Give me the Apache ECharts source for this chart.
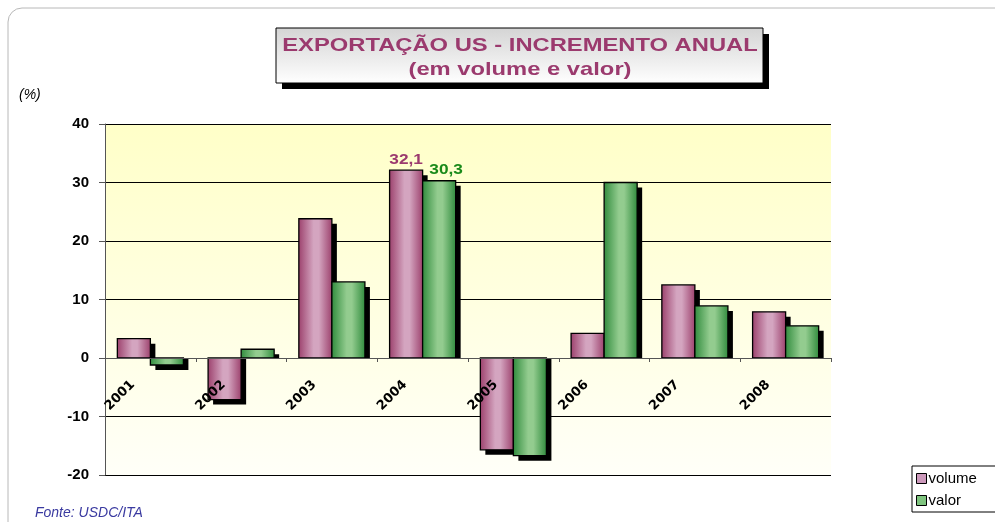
<!DOCTYPE html>
<html lang="pt">
<head>
  <meta charset="utf-8">
</head>
<body style="height: 100%; margin: 0">
  <div id="container" style="width: 995px; height: 522px"></div>
  <script type="text/javascript" src="https://fastly.jsdelivr.net/npm/echarts@6/dist/echarts.min.js"></script>
  <script type="text/javascript">
    // dados
    var anos = ['2001', '2002', '2003', '2004', '2005', '2006', '2007', '2008'];
    var volume = [3.3, -7.1, 23.8, 32.1, -15.7, 4.2, 12.5, 7.9];
    var valor = [-1.2, 1.5, 13.0, 30.3, -16.7, 30.0, 8.9, 5.5];
    var yTicks = [-20, -10, 0, 10, 20, 30, 40];
    var rotulosVisiveis = ['2004']; // só 2004 tem rótulo de valor

    var dom = document.getElementById('container');
    var myChart = echarts.init(dom, null, { renderer: 'canvas' });

    var FONTE = 'Liberation Sans, Arial';

    function gradBar(edge, mid) {
      return new echarts.graphic.LinearGradient(0, 0, 1, 0, [
        { offset: 0, color: edge },
        { offset: 0.45, color: mid },
        { offset: 0.6, color: mid },
        { offset: 1, color: edge }
      ]);
    }

    // barra com sombra "chapada" estilo Excel
    function fazBarra(desloc, fill, corRotulo, dxRotulo) {
      return function (params, api) {
        var idx = api.value(0);
        var v = api.value(1);
        var p0 = api.coord([idx, 0]);
        var p1 = api.coord([idx, v]);
        var band = api.size([1, 0])[0];
        var w = band * 0.364;
        var x = p0[0] + desloc * w;
        var top = Math.min(p0[1], p1[1]);
        var h = Math.abs(p1[1] - p0[1]);
        var sombra;
        if (v >= 0) {
          sombra = { x: x + 5, y: p1[1] + 5, width: w, height: Math.max(0, p0[1] - p1[1] - 5) };
        } else {
          sombra = { x: x + 5, y: p0[1], width: w, height: p1[1] - p0[1] + 5 };
        }
        var filhos = [
          { type: 'rect', shape: sombra, style: { fill: '#000' } },
          {
            type: 'rect',
            shape: { x: x, y: top, width: w, height: h },
            style: { fill: fill, stroke: '#000', lineWidth: 1.3 }
          }
        ];
        var nome = anos[idx];
        if (rotulosVisiveis.indexOf(nome) >= 0) {
          filhos.push({
            type: 'text',
            x: x + w / 2 + dxRotulo,
            y: p1[1] - 3,
            scaleX: 1.15,
            style: {
              text: String(v).replace('.', ','),
              fill: corRotulo,
              font: 'bold 15px ' + FONTE,
              align: 'center',
              verticalAlign: 'bottom'
            }
          });
        }
        return { type: 'group', children: filhos };
      };
    }

    var dadosVolume = volume.map(function (v, i) { return [i, v]; });
    var dadosValor = valor.map(function (v, i) { return [i, v]; });

    var option = {
      backgroundColor: '#fff',
      animation: false,
      textStyle: { fontFamily: FONTE },
      graphic: [
        {
          type: 'rect',
          shape: { x: 8, y: 8, width: 1010, height: 540, r: 14 },
          style: { fill: 'none', stroke: '#b8b8b8', lineWidth: 1 },
          z: -10
        },
        {
          type: 'rect',
          shape: { x: 282, y: 34, width: 487, height: 55 },
          style: { fill: '#000' }
        },
        {
          type: 'rect',
          shape: { x: 276, y: 28, width: 487, height: 55 },
          style: {
            fill: new echarts.graphic.LinearGradient(0, 0, 0, 1, [
              { offset: 0, color: '#d4d4d4' },
              { offset: 1, color: '#ffffff' }
            ]),
            stroke: '#000',
            lineWidth: 1
          }
        },
        {
          type: 'text',
          x: 520,
          y: 46,
          scaleX: 1.25,
          style: {
            text: 'EXPORTAÇÃO US - INCREMENTO ANUAL',
            fill: '#9b3a6e',
            font: 'bold 19px ' + FONTE,
            align: 'center',
            verticalAlign: 'middle'
          }
        },
        {
          type: 'text',
          x: 520,
          y: 70,
          scaleX: 1.25,
          style: {
            text: '(em volume e valor)',
            fill: '#9b3a6e',
            font: 'bold 19px ' + FONTE,
            align: 'center',
            verticalAlign: 'middle'
          }
        },
        {
          type: 'text',
          left: 19,
          top: 88,
          style: { text: '(%)', fill: '#000', font: 'italic 14px ' + FONTE }
        },
        {
          type: 'text',
          left: 35,
          top: 506,
          style: { text: 'Fonte: USDC/ITA', fill: '#3a3aa0', font: 'italic 14px ' + FONTE }
        }
      ],
      grid: {
        left: 105,
        right: 164,
        top: 124,
        bottom: 47,
        show: true,
        borderWidth: 0,
        backgroundColor: new echarts.graphic.LinearGradient(0, 0, 0, 1, [
          { offset: 0, color: '#ffffc8' },
          { offset: 1, color: '#fffff8' }
        ])
      },
      legend: {
        data: [
          { name: 'volume', itemStyle: { color: '#cc99bb', borderColor: '#000', borderWidth: 1 } },
          { name: 'valor', itemStyle: { color: '#7fc47f', borderColor: '#000', borderWidth: 1 } }
        ],
        orient: 'vertical',
        left: 912,
        top: 466,
        icon: 'rect',
        itemWidth: 10,
        itemHeight: 10,
        itemGap: 7,
        padding: [5, 30, 4, 4],
        backgroundColor: '#fff',
        borderColor: '#000',
        borderWidth: 1,
        textStyle: { fontSize: 15, color: '#000', padding: [0, 0, 0, -3] }
      },
      xAxis: {
        type: 'category',
        data: anos,
        position: 'bottom',
        offset: -117,
        z: 10,
        axisLine: { onZero: false, lineStyle: { color: '#555', width: 1 } },
        axisTick: { show: true, length: 4, lineStyle: { color: '#555' } },
        axisLabel: {
          rotate: 45,
          color: '#000',
          fontFamily: 'DejaVu Sans',
          fontWeight: 'bold',
          fontSize: 13,
          margin: 7,
          padding: [0, 25, 0, 0]
        },
        splitLine: { show: false }
      },
      yAxis: {
        type: 'value',
        min: yTicks[0],
        max: yTicks[yTicks.length - 1],
        interval: 10,
        axisLine: { show: true, lineStyle: { color: '#555' } },
        axisTick: { show: true, inside: false, length: 6, lineStyle: { color: '#555' } },
        axisLabel: { color: '#000', fontWeight: 'bold', fontSize: 15, margin: 16 },
        splitLine: { show: true, lineStyle: { color: '#000', width: 1 } }
      },
      series: [
        {
          name: 'volume',
          type: 'custom',
          data: dadosVolume,
          encode: { x: 0, y: 1 },
          itemStyle: { color: '#cc99bb' },
          renderItem: fazBarra(-1, gradBar('#9b3f6b', '#d4a5c0'), '#9b3a6e', 0)
        },
        {
          name: 'valor',
          type: 'custom',
          data: dadosValor,
          encode: { x: 0, y: 1 },
          itemStyle: { color: '#7fc47f' },
          renderItem: fazBarra(0, gradBar('#2f8a3c', '#93cc8f'), '#1a8a1a', 7)
        }
      ]
    };

    myChart.setOption(option);
    window.addEventListener('resize', myChart.resize);
  </script>
</body>
</html>
